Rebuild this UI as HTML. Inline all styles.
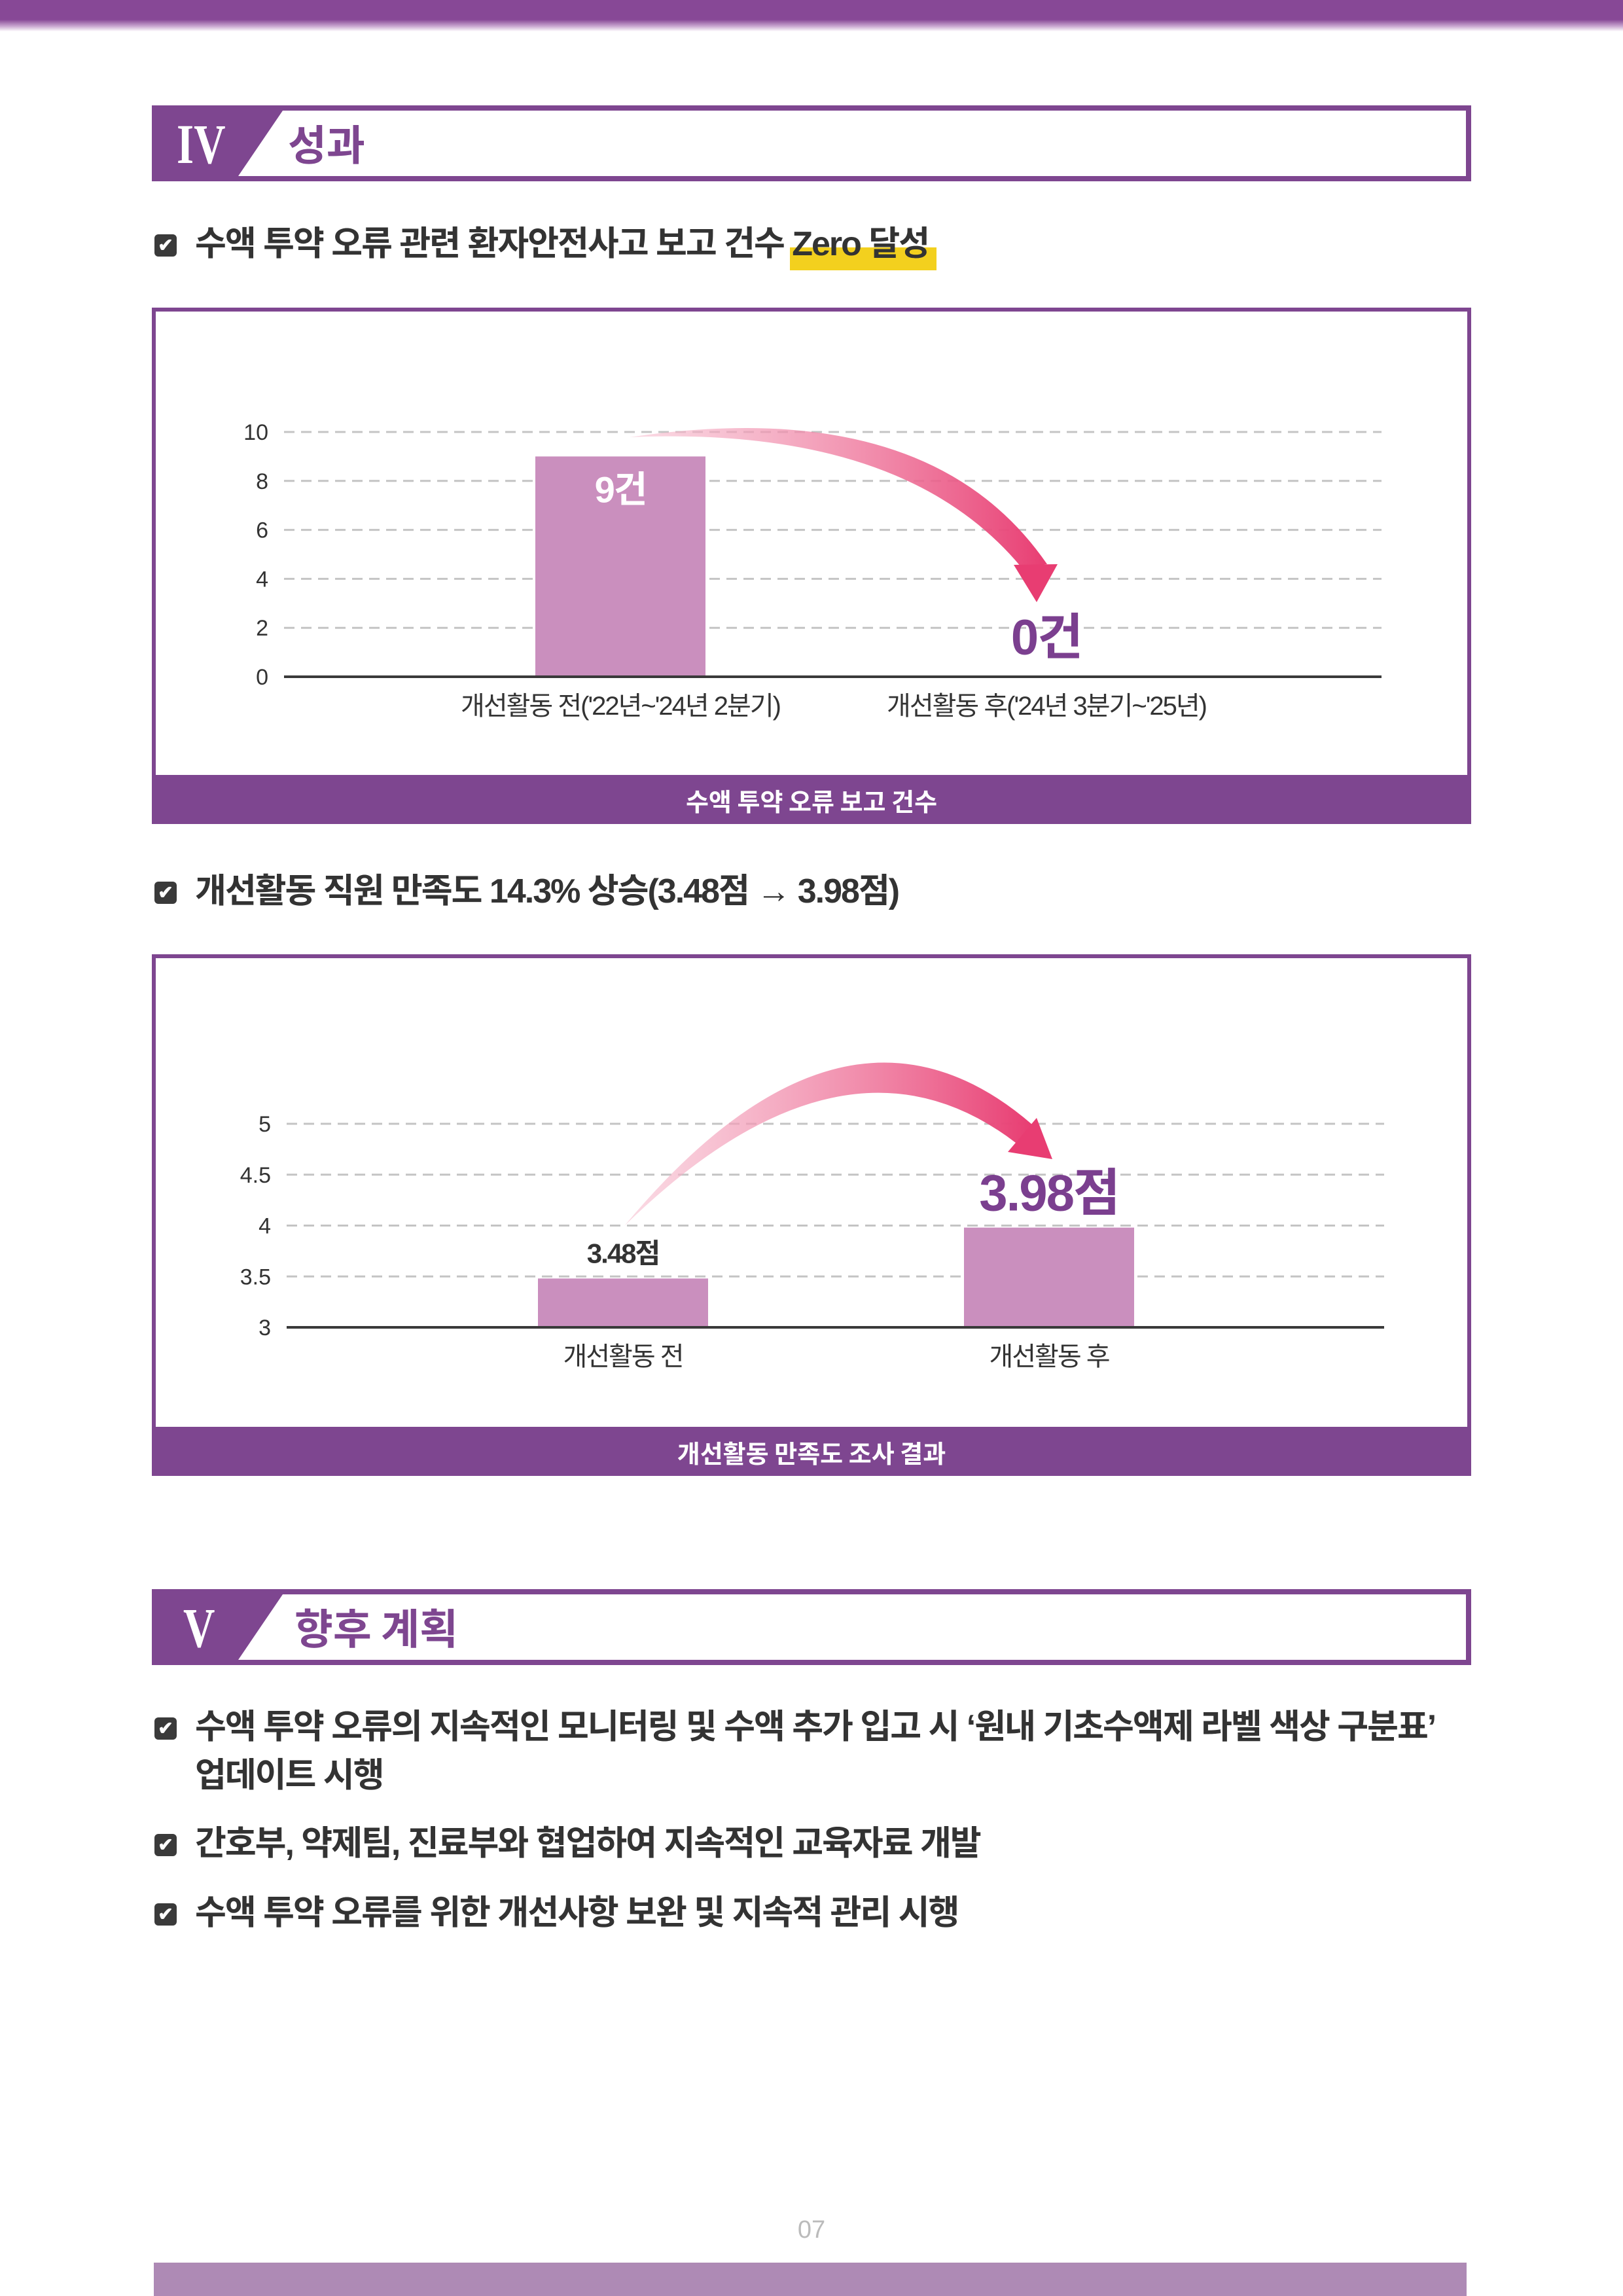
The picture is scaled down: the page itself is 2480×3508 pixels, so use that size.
<!DOCTYPE html>
<html><head><meta charset="utf-8">
<style>
*{margin:0;padding:0;box-sizing:border-box}
body{width:2480px;height:3508px;position:relative;background:#fff;font-family:"Liberation Sans","Noto Sans CJK KR",sans-serif;color:#333;overflow:hidden}
.abs{position:absolute}
.topbar{left:0;top:0;width:2480px;height:48px;background:linear-gradient(#874896 0,#874896 30px,#c9a6d0 40px,#fff 48px)}
.sec{border:8px solid #7e4690;background:#fff;height:116px;width:2016px;left:232px;overflow:hidden}
.sec .blk{position:absolute;left:0;top:0;height:100px;width:192px;background:#7e4690;clip-path:polygon(0 0,100% 0,64.6% 100%,0 100%)}
.sec .rom{position:absolute;left:30px;top:6px;font-family:"Liberation Serif",serif;color:#fff;font-size:86px;font-weight:bold;line-height:90px;transform:scaleX(0.78);transform-origin:left}
.sec .ttl{position:absolute;top:6px;font-weight:bold;color:#7e4690;font-size:64px;line-height:86px;font-family:"Noto Sans CJK KR",sans-serif}
.bul{left:236px;font-size:52px;font-weight:bold;line-height:74px;font-family:"Liberation Sans","Noto Sans CJK KR",sans-serif;letter-spacing:-2px}
.chk{position:absolute;left:0;top:22px;width:34px;height:34px;background:#3a3a3a;border-radius:6px;color:#fff;font-size:28px;line-height:34px;text-align:center;letter-spacing:0}
.bul .tx{margin-left:62px;display:block}
.box{left:232px;width:2016px;border:6px solid #7e4690;background:#fff}
.cap{left:232px;width:2016px;height:72px;background:#7e4690;color:#fff;font-weight:bold;font-size:38px;line-height:72px;text-align:center;font-family:"Noto Sans CJK KR",sans-serif}
</style></head><body>
<div class="abs topbar"></div>

<div class="abs sec" style="top:161px">
 <div class="blk"></div><div class="rom">IV</div>
 <div class="ttl" style="left:200px">성과</div>
</div>

<div class="abs" style="left:1207px;top:378px;width:224px;height:35px;background:#f3d01e"></div>
<div class="abs bul" style="top:336px"><span class="chk">✔</span><span class="tx">수액 투약 오류 관련 환자안전사고 보고 건수 Zero 달성</span></div>

<div class="abs box" style="top:470px;height:720px"></div>
<div class="abs cap" style="top:1187px">수액 투약 오류 보고 건수</div>

<div class="abs bul" style="top:1325px"><span class="chk">✔</span><span class="tx">개선활동 직원 만족도 14.3% 상승(3.48점 → 3.98점)</span></div>

<div class="abs box" style="top:1458px;height:728px"></div>
<div class="abs cap" style="top:2183px">개선활동 만족도 조사 결과</div>

<svg class="abs" style="left:0;top:0" width="2480" height="2300" id="charts">
<defs>
<linearGradient id="ag" x1="0" x2="1" y1="0" y2="0"><stop offset="0" stop-color="#f7c3d3" stop-opacity="0.6"/><stop offset="1" stop-color="#e83d72"/></linearGradient>
</defs>
<g id="c1"></g><g id="c2"></g>
<path d="M962,668 Q1420,600 1600,862 L1560,866 Q1380,650 962,668 Z" fill="url(#ag)"/>
<polygon points="1549,863 1616,862 1584,920" fill="#e83d72"/>
<path d="M954,1873 Q1290,1470 1577,1718 L1552,1746 Q1290,1545 954,1873 Z" fill="url(#ag)"/>
<polygon points="1584,1708 1540,1760 1608,1771" fill="#e83d72"/>
</svg>

<div class="abs sec" style="top:2428px">
 <div class="blk"></div><div class="rom" style="left:40px">V</div>
 <div class="ttl" style="left:210px">향후 계획</div>
</div>

<div class="abs bul" style="top:2602px"><span class="chk">✔</span><span class="tx">수액 투약 오류의 지속적인 모니터링 및 수액 추가 입고 시 ‘원내 기초수액제 라벨 색상 구분표’<br>업데이트 시행</span></div>
<div class="abs bul" style="top:2780px"><span class="chk">✔</span><span class="tx">간호부, 약제팀, 진료부와 협업하여 지속적인 교육자료 개발</span></div>
<div class="abs bul" style="top:2886px"><span class="chk">✔</span><span class="tx">수액 투약 오류를 위한 개선사항 보완 및 지속적 관리 시행</span></div>

<div class="abs" style="left:1140px;top:3386px;width:200px;text-align:center;font-size:38px;color:#bbb">07</div>
<div class="abs" style="left:235px;top:3457px;width:2006px;height:51px;background:#ae8ab5"></div>

<script>
const c1Categories = ["개선활동 전('22년~'24년 2분기)", "개선활동 후('24년 3분기~'25년)"];
const c1Values = [9, 0];
const c1Labels = ["9건", "0건"];
const c1Ticks = [0, 2, 4, 6, 8, 10];
const c2Categories = ["개선활동 전", "개선활동 후"];
const c2Values = [3.48, 3.98];
const c2Labels = ["3.48점", "3.98점"];
const c2Ticks = [3, 3.5, 4, 4.5, 5];

const NS = "http://www.w3.org/2000/svg";
function mk(parent, tag, attrs, text){
  const e = document.createElementNS(NS, tag);
  for (const k in attrs) e.setAttribute(k, attrs[k]);
  if (text !== undefined) e.textContent = text;
  parent.appendChild(e); return e;
}
function drawChart(g, cfg){
  const y = v => cfg.y0 - (v - cfg.vmin) / (cfg.vmax - cfg.vmin) * (cfg.y0 - cfg.y1);
  cfg.ticks.forEach((t, i) => {
    if (i > 0) {
      const l = mk(g, "line", {x1: cfg.gx0, x2: cfg.gx1, y1: y(t), y2: y(t), stroke: "#c4c4c4", "stroke-width": 3, "stroke-dasharray": "16 10"});
      
      
    }
    const tl = mk(g, "text", {x: cfg.lx, y: y(t) + 12, "text-anchor": "end", "font-size": 34, fill: "#333"}, String(t));
    
    
  });
  cfg.values.forEach((v, i) => {
    const cx = cfg.centers[i];
    const top = y(v);
    if (v > cfg.vmin) {
      const r = mk(g, "rect", {x: cx - 130, y: top, width: 260, height: cfg.y0 - top, fill: "#ca8fbe"});
      
      
    }
    const st = cfg.labelStyle[i];
    const ly = st.inside ? top + 70 : top - st.gap;
    const vl = mk(g, "text", {x: cx, y: ly, "text-anchor": "middle", "font-size": st.size, "font-weight": "bold", fill: st.color, "letter-spacing": -2}, cfg.labels[i]);
    
    
    const cl = mk(g, "text", {x: cx, y: cfg.y0 + 58, "text-anchor": "middle", "font-size": 40, fill: "#333", "letter-spacing": -2}, cfg.categories[i]);
    
    
  });
  const ax = mk(g, "line", {x1: cfg.gx0, x2: cfg.gx1, y1: cfg.y0, y2: cfg.y0, stroke: "#3a3a3a", "stroke-width": 4});
  
  
}
drawChart(document.getElementById("c1"), {
  values: c1Values, labels: c1Labels, categories: c1Categories, ticks: c1Ticks,
  vmin: 0, vmax: 10, y0: 1034, y1: 660, gx0: 434, gx1: 2111, lx: 410,
  centers: [948, 1599],
  labelStyle: [{inside: true, size: 56, color: "#fff"}, {inside: false, gap: 34, size: 76, color: "#7b3f8f"}]
});
drawChart(document.getElementById("c2"), {
  values: c2Values, labels: c2Labels, categories: c2Categories, ticks: c2Ticks,
  vmin: 3, vmax: 5, y0: 2028, y1: 1717, gx0: 438, gx1: 2115, lx: 414,
  centers: [952, 1603],
  labelStyle: [{inside: false, gap: 24, size: 42, color: "#333"}, {inside: false, gap: 26, size: 78, color: "#7b3f8f"}]
});
</script>
</body></html>
